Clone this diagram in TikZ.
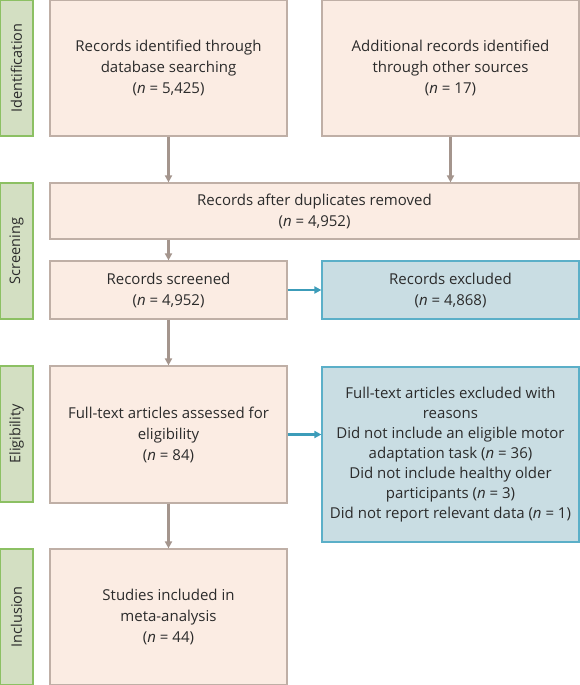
\documentclass[tikz,border=0pt]{standalone}
\usepackage{fontspec}
\setmainfont{Open Sans}
\usetikzlibrary{arrows.meta,positioning}
\definecolor{stagefill}{HTML}{D3DFC2}
\definecolor{stageline}{HTML}{8CC063}
\definecolor{recfill}{HTML}{FBECE3}
\definecolor{recline}{HTML}{BFAFA6}
\definecolor{exclfill}{HTML}{C9DDE3}
\definecolor{exclline}{HTML}{5BAFC8}
\definecolor{flowgrey}{HTML}{A4958D}
\definecolor{flowteal}{HTML}{3C9CB9}
\definecolor{inktext}{HTML}{2B2B2B}
\newcommand{\nn}[1]{(\textit{n} = #1)}
\tikzset{
  stage/.style={draw=stageline,fill=stagefill,line width=1.2pt,rotate=90,
    minimum width=136pt,minimum height=33pt,inner sep=0pt,
    font=\fontsize{14.5}{16}\selectfont,text=inktext},
  record/.style={draw=recline,fill=recfill,line width=1.2pt,inner sep=0pt,
    align=center,font=\fontsize{15}{21}\selectfont,text=inktext},
  excluded/.style={record,draw=exclline,fill=exclfill},
  flow/.style={flowgrey,line width=2.2pt,-{Triangle[length=7pt,width=7pt]}},
  outflow/.style={flowteal,line width=2.2pt,-{Triangle[length=7pt,width=7pt]}}
}

\begin{document}
\begin{tikzpicture}[x=1pt,y=-1pt]
  \useasboundingbox (0,0) rectangle (580,685);
  % Stage labels
  \node[stage] (ident) at (16.5,68) {Identification};
  \node[stage] (screen) at (16.5,251) {Screening};
  \node[stage] (elig) at (16.5,434) {Eligibility};
  \node[stage] (inclu) at (16.5,617) {Inclusion};
  % Records
  \node[record,minimum width=237pt,minimum height=136pt] (dbase) at (168.5,68)
    {Records identified through\\database searching\\\nn{5,425}};
  \node[record,minimum width=257pt,minimum height=136pt] (other) at (450.5,68)
    {Additional records identified\\through other sources\\\nn{17}};
  \node[record,minimum width=529pt,minimum height=56pt] (dupes) at (314.5,211)
    {Records after duplicates removed\\\nn{4,952}};
  \node[record,minimum width=237pt,minimum height=58pt] (screened) at (168.5,290)
    {Records screened\\\nn{4,952}};
  \node[excluded,minimum width=257pt,minimum height=175pt,
    font=\fontsize{15}{20}\selectfont] (ftexcl) at (450.5,454.5)
    {Full-text articles excluded with\\reasons\\Did not include an eligible motor\\adaptation task \nn{36}\\Did not include healthy older\\participants \nn{3}\\Did not report relevant data \nn{1}};
  \node[excluded,minimum width=257pt,minimum height=58pt] (recexcl) at (450.5,290)
    {Records excluded\\\nn{4,868}};
  \node[record,minimum width=237pt,minimum height=137pt] (fulltext) at (168.5,434.5)
    {Full-text articles assessed for\\eligibility\\\nn{84}};
  \node[record,minimum width=237pt,minimum height=136pt] (meta) at (168.5,617)
    {Studies included in\\meta-analysis\\\nn{44}};
  % Arrows
  \draw[flow] (dbase) -- (dupes.north -| dbase);
  \draw[flow] (other) -- (dupes.north -| other);
  \draw[flow] (dupes.south -| screened) -- (screened);
  \draw[flow] (screened) -- (fulltext);
  \draw[flow] (fulltext) -- (meta);
  \draw[outflow] (screened) -- (recexcl);
  \draw[outflow] (fulltext.east) -- (fulltext.east -| ftexcl.west);
\end{tikzpicture}
\end{document}
